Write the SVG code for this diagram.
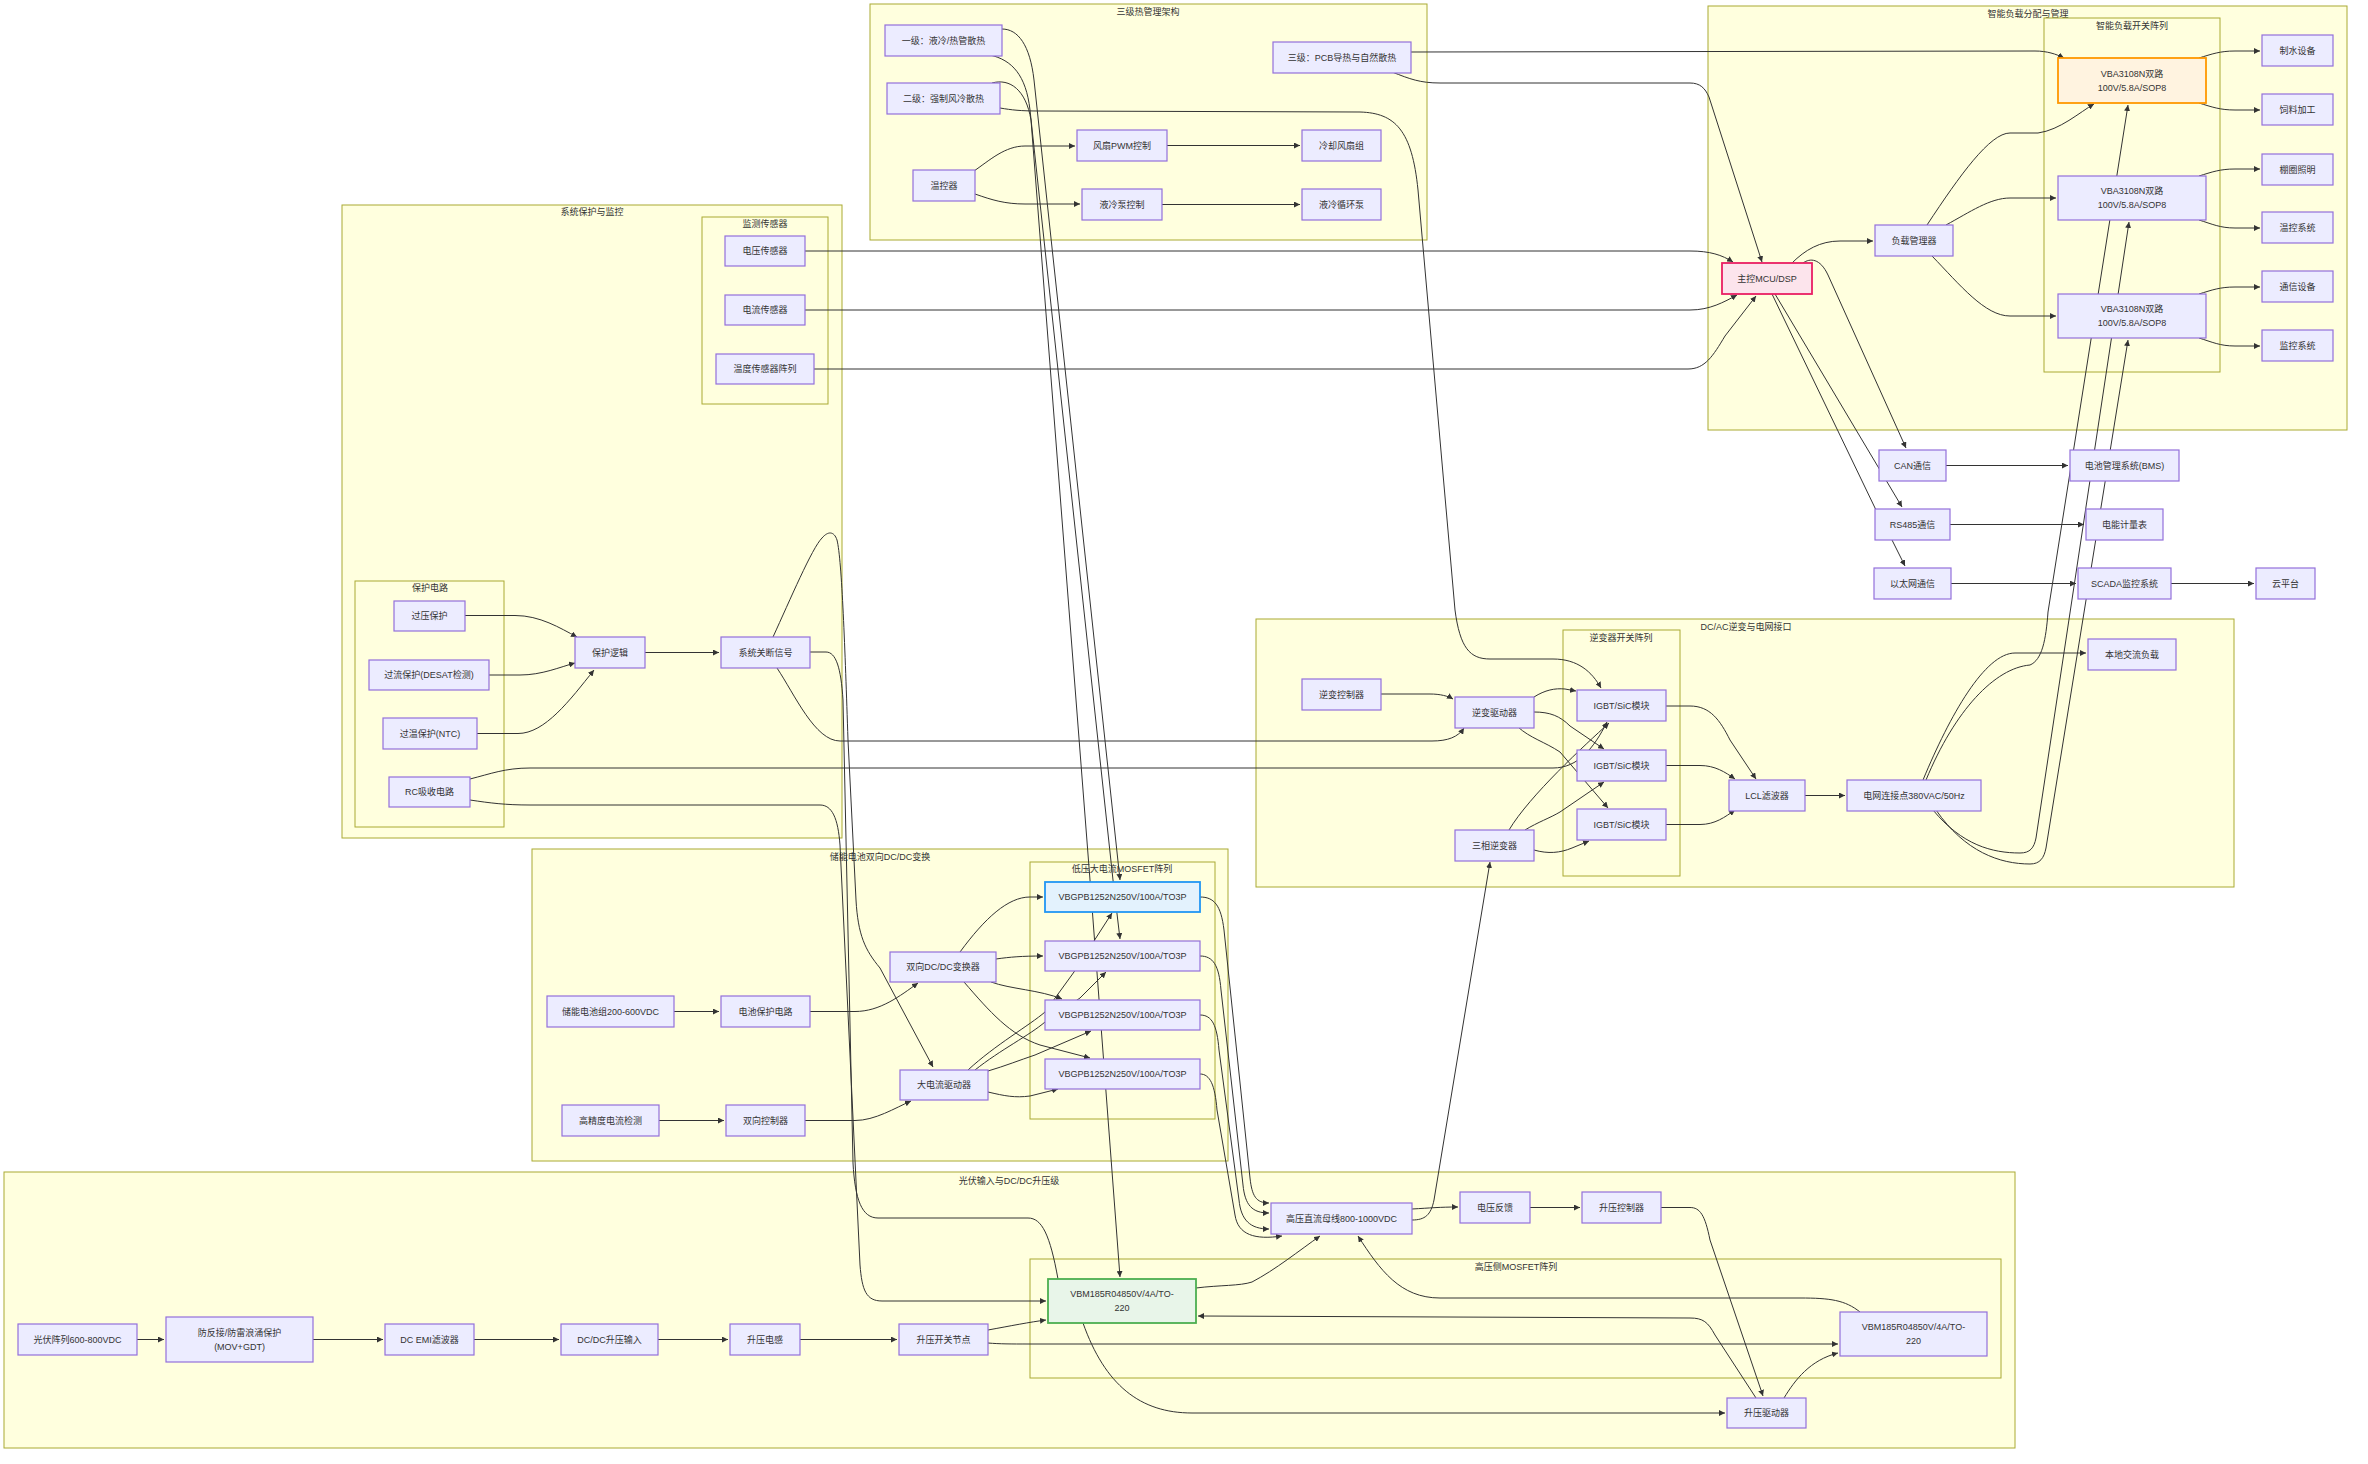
<svg xmlns="http://www.w3.org/2000/svg" width="2368" height="1464" viewBox="0 0 2368 1464">
<defs>
<marker id="ah" viewBox="0 0 10 10" refX="10" refY="5" markerUnits="userSpaceOnUse" markerWidth="6" markerHeight="6" orient="auto"><path d="M0,0L10,5L0,10z" fill="#333"/></marker>
<style>
text{font-family:"Liberation Sans","Noto Sans CJK SC",sans-serif;font-size:9px;fill:#333;text-anchor:middle;dominant-baseline:central}
.cl{fill:#ffffde;stroke:#aaaa33;stroke-width:1}
.n rect{fill:#ececff;stroke:#9370db;stroke-width:1.2}
.n.or rect{fill:#fff3e0;stroke:#ff9800;stroke-width:1.8}
.n.pk rect{fill:#fce4ec;stroke:#e91e63;stroke-width:1.8}
.n.bl rect{fill:#e3f2fd;stroke:#2196f3;stroke-width:1.8}
.n.gr rect{fill:#e8f5e9;stroke:#4caf50;stroke-width:1.8}
#edges path{fill:none;stroke:#333;stroke-width:1;marker-end:url(#ah)}
</style>
</defs>
<rect width="2368" height="1464" fill="#fff"/>
<g id="clusters">
<rect class="cl" x="4" y="1172" width="2011" height="276"/><text x="1009" y="1181">光伏输入与DC/DC升压级</text>
<rect class="cl" x="1030" y="1259" width="971" height="119"/><text x="1516" y="1267">高压侧MOSFET阵列</text>
<rect class="cl" x="532" y="849" width="696" height="312"/><text x="880" y="857">储能电池双向DC/DC变换</text>
<rect class="cl" x="1030" y="862" width="185" height="257"/><text x="1122" y="869">低压大电流MOSFET阵列</text>
<rect class="cl" x="342" y="205" width="500" height="633"/><text x="592" y="212">系统保护与监控</text>
<rect class="cl" x="702" y="217" width="126" height="187"/><text x="765" y="224">监测传感器</text>
<rect class="cl" x="355" y="581" width="149" height="246"/><text x="430" y="588">保护电路</text>
<rect class="cl" x="870" y="4" width="557" height="236"/><text x="1148" y="12">三级热管理架构</text>
<rect class="cl" x="1708" y="6" width="639" height="424"/><text x="2028" y="14">智能负载分配与管理</text>
<rect class="cl" x="2044" y="18" width="176" height="354"/><text x="2132" y="26">智能负载开关阵列</text>
<rect class="cl" x="1256" y="619" width="978" height="268"/><text x="1746" y="627">DC/AC逆变与电网接口</text>
<rect class="cl" x="1563" y="630" width="117" height="246"/><text x="1621" y="638">逆变器开关阵列</text>
</g>
<g id="edges">
<path d="M974,171 C990,160 1005,146 1025,146 L1075,146"/>
<path d="M975,194 C992,200 1005,204 1025,204 L1080,204"/>
<path d="M1167,145.5 L1300,145.5"/>
<path d="M1162,204.5 L1300,204.5"/>
<path d="M1411,52 L2035,51 C2047,51 2056,54 2064,58"/>
<path d="M1392,72 C1410,79 1420,83 1440,83 L1690,83 C1700,83 1705,88 1709,97 L1762,262"/>
<path d="M1002,29 C1018,29 1030,45 1034,80 L1120,880"/>
<path d="M990,55 C1012,60 1026,75 1030,110 L1113,880 L1120,939"/>
<path d="M992,83 C1010,78 1026,90 1031,120 L1090,880 L1120,1277"/>
<path d="M1000,108 C1012,110 1020,111 1040,111 L1360,112 C1395,113 1412,130 1418,190 L1455,610 C1460,648 1470,659 1490,659 L1553,659 C1578,659 1592,672 1601,688"/>
<path d="M465,615.5 L515,615.5 C540,615.5 560,628 577,637"/>
<path d="M489,675 L520,675 C542,675 560,667 575,663"/>
<path d="M477,733.5 L518,733.5 C545,733.5 570,700 594,670"/>
<path d="M645,652.5 L719,652.5"/>
<path d="M773,637 C790,600 812,548 822,538 C828,531 834,531 837,540 C842,560 845,650 848,740 L856,900 C858,935 865,950 880,968 L933,1067"/>
<path d="M810,652 L826,652 C836,652 841,668 843,700 L853,1163 C855,1200 862,1218 878,1218 L1028,1218 C1042,1218 1050,1235 1058,1279 L1083,1323 C1105,1385 1140,1413 1192,1413 L1725,1413"/>
<path d="M777,668 C795,695 815,741 840,741 L1432,741 C1448,741 1458,737 1464,728"/>
<path d="M470,779 C490,774 505,768 530,768 L1553,768 C1578,768 1594,748 1607,722"/>
<path d="M470,800 C490,803 505,805 530,805 L820,805 C832,805 838,818 840,845 L860,1265 C862,1290 866,1301 882,1301 L1046,1301"/>
<path d="M805,251 L1690,251 C1710,251 1722,255 1733,262"/>
<path d="M805,310 L1690,310 C1710,310 1724,302 1737,295"/>
<path d="M814,369 L1688,369 C1705,369 1713,356 1725,336 L1756,296"/>
<path d="M1792,263 C1805,250 1820,241 1840,241 L1873,241"/>
<path d="M1803,263 C1810,258 1820,258 1828,275 L1906,448"/>
<path d="M1775,294 L1902,507"/>
<path d="M1772,294 L1876,510 L1892,540 L1905,566"/>
<path d="M1927,225 C1960,175 1990,133 2010,133 L2038,133 C2060,130 2080,112 2094,104"/>
<path d="M1946,225 C1970,212 1990,198 2010,198 L2056,198"/>
<path d="M1932,256 C1960,285 1985,316 2010,316 L2056,316"/>
<path d="M2199,58 C2212,54 2220,51 2235,51 L2260,51"/>
<path d="M2199,103 C2212,107 2220,110 2235,110 L2260,110"/>
<path d="M2199,176 C2212,172 2220,169 2235,169 L2260,169"/>
<path d="M2199,220 C2212,224 2220,228 2235,228 L2260,228"/>
<path d="M2199,294 C2212,290 2220,287 2235,287 L2260,287"/>
<path d="M2199,338 C2212,342 2220,346 2235,346 L2260,346"/>
<path d="M1926,780 C1955,710 1995,668 2030,665 C2042,660 2046,640 2048,612 L2128,105"/>
<path d="M1923,780 C1950,715 1985,653 2015,653 L2086,653"/>
<path d="M1933,810 C1962,845 1992,853 2020,853 C2030,853 2034,848 2036,838 L2129,222"/>
<path d="M1936,810 C1965,852 2000,864 2030,864 C2040,864 2044,858 2046,848 L2128,340"/>
<path d="M1946,465.5 L2068,465.5"/>
<path d="M1950,524.5 L2084,524.5"/>
<path d="M1951,583.5 L2076,583.5"/>
<path d="M2171,583.5 L2254,583.5"/>
<path d="M1381,694 L1430,694 C1440,694 1448,696 1453,699"/>
<path d="M1534,697 C1545,690 1555,688 1565,689 L1576,691"/>
<path d="M1534,712 C1550,712 1560,716 1570,726 L1604,749"/>
<path d="M1518,727 C1530,738 1545,742 1560,752 L1608,808"/>
<path d="M1509,830 C1530,795 1585,745 1609,723"/>
<path d="M1525,830 C1538,822 1550,818 1560,812 L1604,782"/>
<path d="M1534,850 C1548,854 1560,853 1572,848 L1589,841"/>
<path d="M1666,706 L1690,706 C1710,706 1720,720 1730,740 L1756,779"/>
<path d="M1666,765.5 L1700,765.5 C1715,765.5 1725,772 1735,779"/>
<path d="M1666,824.5 L1700,824.5 C1715,824.5 1725,817 1735,810"/>
<path d="M1805,795.5 L1845,795.5"/>
<path d="M1412,1220 C1425,1220 1431,1215 1434,1200 L1490,862"/>
<path d="M674,1011.5 L719,1011.5"/>
<path d="M810,1011.5 L855,1011.5 C880,1011.5 900,996 918,983"/>
<path d="M659,1120.5 L724,1120.5"/>
<path d="M805,1120.5 L855,1120.5 C875,1120.5 895,1108 911,1101"/>
<path d="M960,952 C985,918 1008,897 1030,897 L1043,897"/>
<path d="M996,959 C1010,957 1022,956 1043,956"/>
<path d="M991,982 C1010,989 1040,990 1062,999"/>
<path d="M964,982 C990,1012 1010,1035 1040,1045 L1090,1058"/>
<path d="M968,1070 C995,1045 1030,1025 1045,1012 L1074,972 L1112,913"/>
<path d="M975,1070 C1000,1050 1030,1035 1045,1022 L1080,998 L1106,972"/>
<path d="M988,1071 C1005,1066 1020,1060 1035,1055 L1091,1031"/>
<path d="M988,1092 C1005,1096 1015,1098 1030,1096 L1058,1089"/>
<path d="M1200,897 C1214,897 1221,905 1224,930 L1250,1178 C1252,1196 1256,1203 1269,1203"/>
<path d="M1200,956 C1213,956 1219,965 1221,990 L1243,1185 C1245,1205 1252,1213 1269,1213"/>
<path d="M1200,1015 C1212,1015 1217,1025 1219,1050 L1239,1200 C1241,1220 1250,1229 1269,1229"/>
<path d="M1200,1074 C1210,1074 1215,1085 1217,1110 L1235,1215 C1238,1235 1255,1240 1282,1236"/>
<path d="M1196,1288 C1220,1285 1240,1286 1252,1282 C1275,1270 1300,1250 1320,1236"/>
<path d="M1860,1312 C1845,1300 1830,1298 1800,1298 L1440,1298 C1400,1298 1380,1270 1358,1236"/>
<path d="M1412,1209 C1430,1208 1440,1207 1458,1207"/>
<path d="M1530,1207.5 L1580,1207.5"/>
<path d="M1661,1207.5 L1690,1207.5 C1700,1207.5 1705,1215 1710,1240 L1763,1396"/>
<path d="M1756,1398 L1715,1335 C1708,1322 1703,1318 1690,1318 L1198,1316"/>
<path d="M1784,1398 C1795,1380 1810,1360 1838,1353"/>
<path d="M137,1339.5 L164,1339.5"/>
<path d="M313,1339.5 L383,1339.5"/>
<path d="M474,1339.5 L559,1339.5"/>
<path d="M658,1339.5 L728,1339.5"/>
<path d="M800,1339.5 L897,1339.5"/>
<path d="M988,1330 C1010,1326 1030,1322 1046,1320"/>
<path d="M988,1343 C1000,1344 1010,1344 1030,1344 L1838,1344"/>
</g>
<g id="nodes">
<g id="pv1" class="n"><rect x="18" y="1324" width="119" height="31"/><text x="77.5" y="1339.5">光伏阵列600-800VDC</text></g>
<g id="pv2" class="n"><rect x="166" y="1317" width="147" height="45"/><text x="239.5" y="1333">防反接/防雷浪涌保护</text><text x="239.5" y="1347">(MOV+GDT)</text></g>
<g id="pv3" class="n"><rect x="385" y="1324" width="89" height="31"/><text x="429.5" y="1339.5">DC EMI滤波器</text></g>
<g id="pv4" class="n"><rect x="561" y="1324" width="97" height="31"/><text x="609.5" y="1339.5">DC/DC升压输入</text></g>
<g id="pv5" class="n"><rect x="730" y="1324" width="70" height="31"/><text x="765" y="1339.5">升压电感</text></g>
<g id="pv6" class="n"><rect x="899" y="1324" width="89" height="31"/><text x="943.5" y="1339.5">升压开关节点</text></g>
<g id="qhv1" class="n gr"><rect x="1048" y="1279" width="148" height="44"/><text x="1122" y="1294">VBM185R04850V/4A/TO-</text><text x="1122" y="1308">220</text></g>
<g id="qhv2" class="n"><rect x="1840" y="1312" width="147" height="44"/><text x="1913.5" y="1327">VBM185R04850V/4A/TO-</text><text x="1913.5" y="1341">220</text></g>
<g id="hvbus" class="n"><rect x="1271" y="1203" width="141" height="31"/><text x="1341.5" y="1218.5">高压直流母线800-1000VDC</text></g>
<g id="vfb" class="n"><rect x="1460" y="1192" width="70" height="31"/><text x="1495" y="1207.5">电压反馈</text></g>
<g id="bctrl" class="n"><rect x="1582" y="1192" width="79" height="31"/><text x="1621.5" y="1207.5">升压控制器</text></g>
<g id="bdrv" class="n"><rect x="1727" y="1398" width="79" height="30"/><text x="1766.5" y="1413">升压驱动器</text></g>
<g id="bat" class="n"><rect x="547" y="996" width="127" height="31"/><text x="610.5" y="1011.5">储能电池组200-600VDC</text></g>
<g id="bprot" class="n"><rect x="721" y="996" width="89" height="31"/><text x="765.5" y="1011.5">电池保护电路</text></g>
<g id="bidc" class="n"><rect x="890" y="952" width="106" height="30"/><text x="943" y="967">双向DC/DC变换器</text></g>
<g id="hdrv" class="n"><rect x="900" y="1070" width="88" height="30"/><text x="944" y="1085">大电流驱动器</text></g>
<g id="isense" class="n"><rect x="562" y="1105" width="97" height="31"/><text x="610.5" y="1120.5">高精度电流检测</text></g>
<g id="bictrl" class="n"><rect x="726" y="1105" width="79" height="31"/><text x="765.5" y="1120.5">双向控制器</text></g>
<g id="qlv1" class="n bl"><rect x="1045" y="882" width="155" height="30"/><text x="1122.5" y="897">VBGPB1252N250V/100A/TO3P</text></g>
<g id="qlv2" class="n"><rect x="1045" y="941" width="155" height="30"/><text x="1122.5" y="956">VBGPB1252N250V/100A/TO3P</text></g>
<g id="qlv3" class="n"><rect x="1045" y="1000" width="155" height="30"/><text x="1122.5" y="1015">VBGPB1252N250V/100A/TO3P</text></g>
<g id="qlv4" class="n"><rect x="1045" y="1059" width="155" height="30"/><text x="1122.5" y="1074">VBGPB1252N250V/100A/TO3P</text></g>
<g id="vs" class="n"><rect x="725" y="236" width="80" height="30"/><text x="765" y="251">电压传感器</text></g>
<g id="cs" class="n"><rect x="725" y="295" width="80" height="30"/><text x="765" y="310">电流传感器</text></g>
<g id="ts" class="n"><rect x="716" y="354" width="98" height="30"/><text x="765" y="369">温度传感器阵列</text></g>
<g id="ovp" class="n"><rect x="394" y="601" width="71" height="30"/><text x="429.5" y="616">过压保护</text></g>
<g id="ocp" class="n"><rect x="369" y="660" width="120" height="30"/><text x="429" y="675">过流保护(DESAT检测)</text></g>
<g id="otp" class="n"><rect x="383" y="718" width="94" height="31"/><text x="430" y="733.5">过温保护(NTC)</text></g>
<g id="rc" class="n"><rect x="389" y="777" width="81" height="30"/><text x="429.5" y="792">RC吸收电路</text></g>
<g id="plogic" class="n"><rect x="575" y="637" width="70" height="31"/><text x="610" y="652.5">保护逻辑</text></g>
<g id="sd" class="n"><rect x="721" y="637" width="89" height="31"/><text x="765.5" y="652.5">系统关断信号</text></g>
<g id="t1" class="n"><rect x="885" y="25" width="117" height="31"/><text x="943.5" y="40.5">一级：液冷/热管散热</text></g>
<g id="t2" class="n"><rect x="887" y="83" width="113" height="31"/><text x="943.5" y="98.5">二级：强制风冷散热</text></g>
<g id="t3" class="n"><rect x="1273" y="42" width="138" height="31"/><text x="1342" y="57.5">三级：PCB导热与自然散热</text></g>
<g id="tc" class="n"><rect x="913" y="170" width="62" height="31"/><text x="944" y="185.5">温控器</text></g>
<g id="fpwm" class="n"><rect x="1077" y="130" width="90" height="31"/><text x="1122" y="145.5">风扇PWM控制</text></g>
<g id="pump" class="n"><rect x="1082" y="189" width="80" height="31"/><text x="1122" y="204.5">液冷泵控制</text></g>
<g id="fan" class="n"><rect x="1302" y="130" width="79" height="31"/><text x="1341.5" y="145.5">冷却风扇组</text></g>
<g id="loop" class="n"><rect x="1302" y="189" width="79" height="31"/><text x="1341.5" y="204.5">液冷循环泵</text></g>
<g id="vba1" class="n or"><rect x="2058" y="58" width="148" height="45"/><text x="2132" y="74">VBA3108N双路</text><text x="2132" y="88">100V/5.8A/SOP8</text></g>
<g id="vba2" class="n"><rect x="2058" y="176" width="148" height="44"/><text x="2132" y="191">VBA3108N双路</text><text x="2132" y="205">100V/5.8A/SOP8</text></g>
<g id="vba3" class="n"><rect x="2058" y="294" width="148" height="44"/><text x="2132" y="309">VBA3108N双路</text><text x="2132" y="323">100V/5.8A/SOP8</text></g>
<g id="l1" class="n"><rect x="2262" y="35" width="71" height="31"/><text x="2297.5" y="50.5">制水设备</text></g>
<g id="l2" class="n"><rect x="2262" y="94" width="71" height="31"/><text x="2297.5" y="109.5">饲料加工</text></g>
<g id="l3" class="n"><rect x="2262" y="154" width="71" height="31"/><text x="2297.5" y="169.5">棚圈照明</text></g>
<g id="l4" class="n"><rect x="2262" y="212" width="71" height="31"/><text x="2297.5" y="227.5">温控系统</text></g>
<g id="l5" class="n"><rect x="2262" y="271" width="71" height="31"/><text x="2297.5" y="286.5">通信设备</text></g>
<g id="l6" class="n"><rect x="2262" y="330" width="71" height="31"/><text x="2297.5" y="345.5">监控系统</text></g>
<g id="lm" class="n"><rect x="1875" y="225" width="78" height="31"/><text x="1914" y="240.5">负载管理器</text></g>
<g id="mcu" class="n pk"><rect x="1722" y="263" width="90" height="31"/><text x="1767" y="278.5">主控MCU/DSP</text></g>
<g id="can" class="n"><rect x="1879" y="450" width="67" height="31"/><text x="1912.5" y="465.5">CAN通信</text></g>
<g id="rs485" class="n"><rect x="1875" y="509" width="75" height="31"/><text x="1912.5" y="524.5">RS485通信</text></g>
<g id="eth" class="n"><rect x="1874" y="568" width="77" height="31"/><text x="1912.5" y="583.5">以太网通信</text></g>
<g id="bms" class="n"><rect x="2070" y="450" width="109" height="31"/><text x="2124.5" y="465.5">电池管理系统(BMS)</text></g>
<g id="meter" class="n"><rect x="2086" y="509" width="77" height="31"/><text x="2124.5" y="524.5">电能计量表</text></g>
<g id="scada" class="n"><rect x="2078" y="568" width="93" height="31"/><text x="2124.5" y="583.5">SCADA监控系统</text></g>
<g id="cloud" class="n"><rect x="2256" y="568" width="59" height="31"/><text x="2285.5" y="583.5">云平台</text></g>
<g id="ictrl" class="n"><rect x="1302" y="679" width="79" height="31"/><text x="1341.5" y="694.5">逆变控制器</text></g>
<g id="idrv" class="n"><rect x="1455" y="697" width="79" height="31"/><text x="1494.5" y="712.5">逆变驱动器</text></g>
<g id="igbt1" class="n"><rect x="1577" y="690" width="89" height="31"/><text x="1621.5" y="705.5">IGBT/SiC模块</text></g>
<g id="igbt2" class="n"><rect x="1577" y="750" width="89" height="31"/><text x="1621.5" y="765.5">IGBT/SiC模块</text></g>
<g id="igbt3" class="n"><rect x="1577" y="809" width="89" height="31"/><text x="1621.5" y="824.5">IGBT/SiC模块</text></g>
<g id="inv3" class="n"><rect x="1455" y="830" width="79" height="31"/><text x="1494.5" y="845.5">三相逆变器</text></g>
<g id="lcl" class="n"><rect x="1729" y="780" width="76" height="31"/><text x="1767" y="795.5">LCL滤波器</text></g>
<g id="grid" class="n"><rect x="1847" y="780" width="134" height="31"/><text x="1914" y="795.5">电网连接点380VAC/50Hz</text></g>
<g id="acload" class="n"><rect x="2088" y="639" width="88" height="31"/><text x="2132" y="654.5">本地交流负载</text></g>
</g>
</svg>
